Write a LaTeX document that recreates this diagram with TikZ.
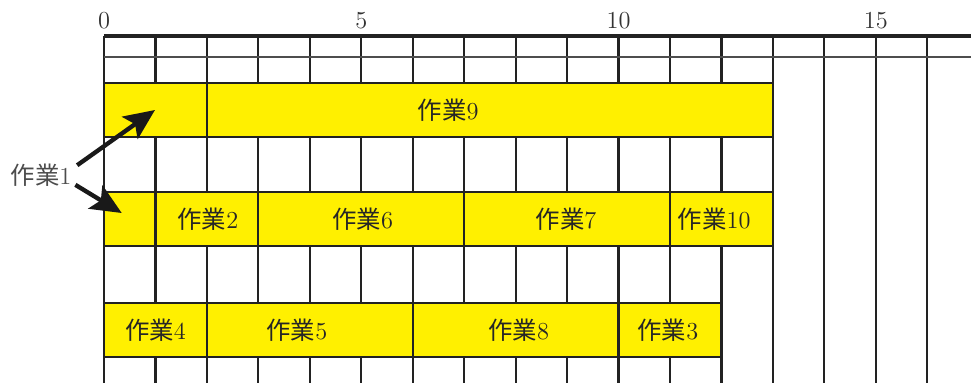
\documentclass[tikz,border=0pt]{standalone}
\usepackage{fontspec}
\newfontfamily\jpfont{Noto Sans CJK JP}
\usetikzlibrary{arrows.meta}
\definecolor{barfill}{HTML}{FFF000}
\definecolor{gridline}{HTML}{222222}

\begin{document}
\begin{tikzpicture}[
  bar/.style={draw=gridline,line width=1.2pt,fill=barfill},
  task/.style={font=\fontsize{13.5}{16}\selectfont,text=black!85,inner sep=0pt},
  tick/.style={font=\fontsize{13.5}{16}\selectfont,text=black!80},
  arrow/.style={-{Stealth[length=17pt,width=15pt,inset=3.5pt]},line width=2.4pt,black!90}]

\useasboundingbox (-2.021,0.700) rectangle (16.851,-6.744);

%% ---------- grid ----------
\foreach \u in {0,...,16}
  \draw[gridline,line width=1.2pt] (\u,0) -- (\u,-6.744);
\draw[gridline,line width=1.7pt] (0,0) -- (16.851,0);
\draw[gridline!80,line width=1pt] (0,-0.408) -- (16.851,-0.408);
\foreach \u in {0,5,10,15}
  \node[tick] (N\u) at (\u,0.29) {\u};

%% ---------- bars ----------
% row 1
\foreach \a/\b in {0/2,2/13}
  \draw[bar] (\a,-0.913) rectangle (\b,-1.963);
% row 2
\foreach \a/\b in {0/1,1/3,3/7,7/11,11/13}
  \draw[bar] (\a,-3.032) rectangle (\b,-4.082);
% row 3
\foreach \a/\b in {0/2,2/6,6/10,10/12}
  \draw[bar] (\a,-5.190) rectangle (\b,-6.239);

%% ---------- labels ----------
\node[task] (T9) at (6.69,-1.438) {{\jpfont 作業}9};
\node[task] (T2) at (2.02,-3.557) {{\jpfont 作業}2};
\node[task] (T6) at (5.03,-3.557) {{\jpfont 作業}6};
\node[task] (T7) at (8.98,-3.557) {{\jpfont 作業}7};
\node[task] (T10) at (11.86,-3.557) {{\jpfont 作業}10};
\node[task] (T4) at (1.00,-5.714) {{\jpfont 作業}4};
\node[task] (T5) at (3.75,-5.714) {{\jpfont 作業}5};
\node[task] (T8) at (8.06,-5.714) {{\jpfont 作業}8};
\node[task] (T3) at (10.96,-5.714) {{\jpfont 作業}3};

%% ---------- task 1 pointers ----------
\node[task,text=black!70] (T1) at (-1.224,-2.702) {{\jpfont 作業}1};
\coordinate (P1a) at (0.991,-1.438);
\coordinate (P1b) at (0.345,-3.440);
\draw[arrow] ([shift={(3pt,-1pt)}]T1.north east) -- (P1a);
\draw[arrow] ([shift={(2pt,1pt)}]T1.south east) -- (P1b);

\end{tikzpicture}
\end{document}
